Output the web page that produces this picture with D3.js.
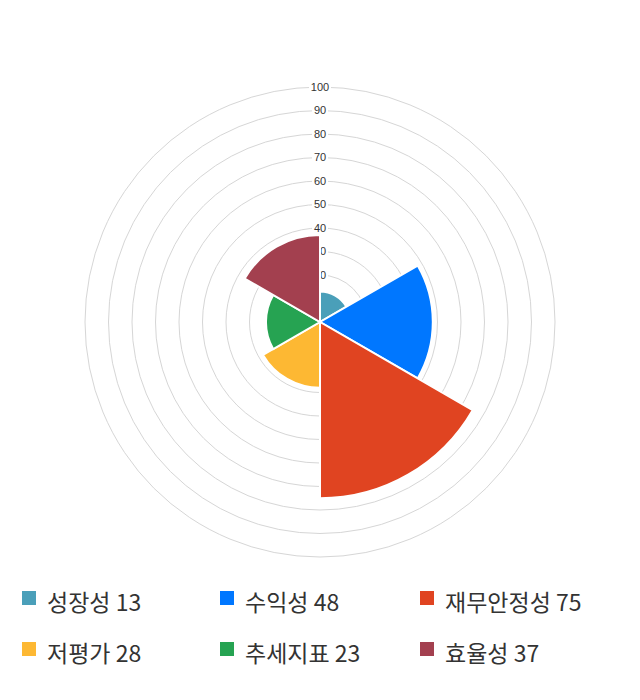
<!DOCTYPE html>
<html>
<head>
<meta charset="utf-8">
<script src="https://cdn.jsdelivr.net/npm/d3@7"></script>
<style>
  body { margin: 0; background: #fff; }
  svg { display: block; }
</style>
</head>
<body>
<svg id="chart" width="640" height="700"></svg>
<script>
// chart data
var categories = ["성장성", "수익성", "재무안정성", "저평가", "추세지표", "효율성"];
var values = [13, 48, 75, 28, 23, 37];
var colors = ["#4a9fb9", "#0077ff", "#e04421", "#fdb833", "#26a352", "#a3404f"];
var ticks = [10, 20, 30, 40, 50, 60, 70, 80, 90, 100];

var cx = 320, cy = 322, outer = 235;

var svg = d3.select("#chart");
var g = svg.append("g").attr("transform", "translate(" + cx + "," + cy + ")");

// radius scale (linear in value, like chart.js polar area)
var r = d3.scaleLinear().domain([0, 100]).range([0, outer]);

// grid rings
g.selectAll("circle.ring")
  .data(ticks)
  .enter()
  .append("circle")
  .attr("class", "ring")
  .attr("r", d => r(d))
  .attr("fill", "none")
  .attr("stroke", "#d6d6d6")
  .attr("stroke-width", 1);

// tick labels with white backdrop
var lab = g.selectAll("g.tick")
  .data(ticks)
  .enter()
  .append("g")
  .attr("class", "tick")
  .attr("transform", d => "translate(0," + (-r(d)) + ")");

lab.append("rect")
  .attr("x", d => d === 100 ? -11 : -8)
  .attr("y", -6)
  .attr("width", d => d === 100 ? 22 : 16)
  .attr("height", 12)
  .attr("fill", "#fff");

lab.append("text")
  .text(d => d)
  .attr("text-anchor", "middle")
  .attr("dy", "0.35em")
  .attr("font-family", "Liberation Sans, Arial, sans-serif")
  .attr("font-size", 11)
  .attr("fill", "#333");

// slices
var angle = d3.scaleBand().domain(categories).range([0, Math.PI * 2]);
var arc = d3.arc().innerRadius(0);

g.selectAll("path.slice")
  .data(values)
  .enter()
  .append("path")
  .attr("class", "slice")
  .attr("d", (d, i) => arc({
    startAngle: angle(categories[i]),
    endAngle: angle(categories[i]) + angle.bandwidth(),
    outerRadius: r(d)
  }))
  .attr("fill", (d, i) => colors[i])
  .attr("stroke", "#fff")
  .attr("stroke-width", 2);

// legend
var legend = svg.append("g");
var item = legend.selectAll("g.item")
  .data(categories)
  .enter()
  .append("g")
  .attr("class", "item")
  .attr("transform", (d, i) => "translate(" + [22, 220, 420][i % 3] + "," + (i < 3 ? 591 : 642) + ")");

item.append("rect")
  .attr("width", 14)
  .attr("height", 14)
  .attr("fill", (d, i) => colors[i]);

item.append("text")
  .text((d, i) => d + " " + values[i])
  .attr("x", 25)
  .attr("y", 20)
  .attr("font-family", "Noto Sans CJK KR, Noto Sans, sans-serif")
  .attr("font-size", 23)
  .attr("fill", "#333");
</script>
</body>
</html>
